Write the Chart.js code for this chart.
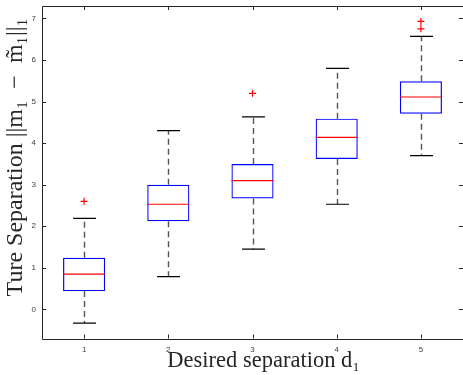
<!DOCTYPE html>
<html>
<head>
<meta charset="utf-8">
<script src="https://cdn.jsdelivr.net/npm/chart.js@4/dist/chart.umd.min.js"></script>
<style>
  html, body { margin: 0; padding: 0; background: #fff; }
  #wrap { width: 463px; height: 375px; }
</style>
</head>
<body>
<div id="wrap"><canvas id="c"></canvas></div>
<script>
// ---- data ----
const categories   = ['1', '2', '3', '4', '5'];
const whiskerLow   = [-0.33, 0.79, 1.45, 2.53, 3.70];
const quartile1    = [0.44, 2.12, 2.67, 3.62, 4.71];
const medians      = [0.85, 2.53, 3.10, 4.14, 5.11];
const quartile3    = [1.24, 3.00, 3.50, 4.59, 5.49];
const whiskerHigh  = [2.19, 4.30, 4.63, 5.80, 6.57];
const outlierCats  = ['1', '3', '5', '5'];
const outlierVals  = [2.60, 5.20, 6.75, 6.93];
const yTickValues  = [0, 1, 2, 3, 4, 5, 6, 7];

const axisColor = '#262626';

const boxExtras = {
  id: 'boxExtras',
  beforeDatasetsDraw(chart) {
    const { ctx, scales: { x, y } } = chart;
    const step = x.getPixelForValue(1) - x.getPixelForValue(0);
    const capHalf = step * 0.136;
    ctx.save();
    categories.forEach((c, i) => {
      const cx = Math.round(x.getPixelForValue(i)) + 0.5;
      // dashed whiskers
      ctx.strokeStyle = '#555';
      ctx.lineWidth = 1.4;
      ctx.setLineDash([6, 4]);
      ctx.beginPath();
      ctx.moveTo(cx, y.getPixelForValue(quartile3[i]));
      ctx.lineTo(cx, y.getPixelForValue(whiskerHigh[i]));
      ctx.moveTo(cx, y.getPixelForValue(quartile1[i]));
      ctx.lineTo(cx, y.getPixelForValue(whiskerLow[i]));
      ctx.stroke();
      ctx.setLineDash([]);
      // caps
      ctx.strokeStyle = '#000';
      ctx.lineWidth = 1.2;
      ctx.beginPath();
      const yh = y.getPixelForValue(whiskerHigh[i]);
      const yl = y.getPixelForValue(whiskerLow[i]);
      ctx.moveTo(cx - capHalf, yh); ctx.lineTo(cx + capHalf, yh);
      ctx.moveTo(cx - capHalf, yl); ctx.lineTo(cx + capHalf, yl);
      ctx.stroke();
    });
    ctx.restore();
  },
  afterDatasetsDraw(chart) {
    const { ctx, chartArea: a, scales: { x, y } } = chart;
    const step = x.getPixelForValue(1) - x.getPixelForValue(0);
    const boxHalf = step * 0.25;
    ctx.save();
    // medians
    ctx.strokeStyle = '#ff0000';
    ctx.lineWidth = 1.2;
    categories.forEach((c, i) => {
      const cx = x.getPixelForValue(i);
      const ym = y.getPixelForValue(medians[i]);
      ctx.beginPath();
      ctx.moveTo(cx - boxHalf, ym); ctx.lineTo(cx + boxHalf, ym);
      ctx.stroke();
    });
    // frame
    ctx.strokeStyle = axisColor;
    ctx.lineWidth = 1;
    ctx.beginPath();
    ctx.rect(Math.round(a.left) + 0.5, Math.round(a.top) + 0.5,
             Math.round(a.right - a.left), Math.round(a.bottom - a.top));
    ctx.stroke();
    // inward ticks
    const tl = 4;
    ctx.beginPath();
    yTickValues.forEach(v => {
      const py = Math.round(y.getPixelForValue(v)) + 0.5;
      ctx.moveTo(a.left, py); ctx.lineTo(a.left + tl, py);
      ctx.moveTo(a.right, py); ctx.lineTo(a.right - tl, py);
    });
    categories.forEach((c, i) => {
      const px = Math.round(x.getPixelForValue(i)) + 0.5;
      ctx.moveTo(px, a.bottom); ctx.lineTo(px, a.bottom - tl);
      ctx.moveTo(px, a.top); ctx.lineTo(px, a.top + tl);
    });
    ctx.stroke();
    ctx.restore();
  }
};

const tickFont = { family: 'Liberation Sans', size: 8 };

new Chart(document.getElementById('c'), {
  type: 'bar',
  data: {
    labels: categories,
    datasets: [
      {
        type: 'bar',
        data: categories.map((c, i) => [quartile1[i], quartile3[i]]),
        backgroundColor: 'rgba(0,0,0,0)',
        borderColor: '#0000ff',
        borderWidth: 1.2,
        borderSkipped: false,
        barPercentage: 0.5,
        categoryPercentage: 1
      },
      {
        type: 'line',
        data: outlierCats.map((c, i) => ({ x: c, y: outlierVals[i] })),
        showLine: false,
        pointStyle: 'cross',
        pointRadius: 3.5,
        pointBorderWidth: 1.2,
        pointBorderColor: '#ff0000',
        pointBackgroundColor: '#ff0000'
      }
    ]
  },
  options: {
    responsive: true,
    maintainAspectRatio: false,
    animation: false,
    devicePixelRatio: 1,
    layout: { autoPadding: false, padding: { top: 6, right: 0, left: 0, bottom: 0 } },
    plugins: { legend: { display: false }, tooltip: { enabled: false } },
    scales: {
      x: {
        type: 'category',
        offset: true,
        grid: { display: false, drawTicks: false },
        border: { display: false },
        ticks: { font: tickFont, color: '#404040', padding: 6, maxRotation: 0 },
        title: {
          display: true,
          text: '    Desired separation d\u2081',
          font: { family: 'Liberation Serif', size: 22.5 },
          color: axisColor,
          padding: { top: 0, bottom: 0 }
        },
        afterFit(s) { s.height = 36.5; s.paddingLeft = 0; s.paddingRight = 0; }
      },
      y: {
        type: 'linear',
        min: -0.7,
        max: 7.3,
        grid: { display: false, drawTicks: false },
        border: { display: false },
        afterBuildTicks(s) { s.ticks = yTickValues.map(v => ({ value: v })); },
        ticks: { font: tickFont, color: '#404040', padding: 6 },
        title: {
          display: true,
          text: '     Ture Separation ||m\u2081\u2002\u2212\u2002m\u0303\u2081||\u2081',
          font: { family: 'Liberation Serif', size: 24 },
          color: axisColor,
          padding: { top: 1.5, bottom: 0 }
        },
        afterFit(s) { s.width = 42; s.paddingTop = 0; s.paddingBottom = 0; }
      }
    }
  },
  plugins: [boxExtras]
});
</script>
</body>
</html>
